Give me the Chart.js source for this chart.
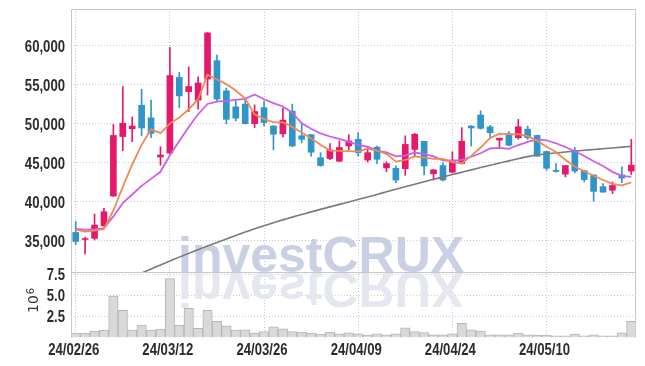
<!DOCTYPE html>
<html>
<head>
<meta charset="utf-8">
<script src="https://cdn.jsdelivr.net/npm/chart.js@4.4.1/dist/chart.umd.min.js"></script>
<style>
	html, body { margin: 0; padding: 0; background: #fff; }
	#wrap { width: 645px; height: 366px; }
</style>
</head>
<body>
<div id="wrap"><canvas id="myChart" width="645" height="366"></canvas></div>
<script>
const dates = ['24/02/26','24/02/27','24/02/28','24/02/29','24/03/04','24/03/05','24/03/06','24/03/07','24/03/08','24/03/11',
	'24/03/12','24/03/13','24/03/14','24/03/15','24/03/18','24/03/19','24/03/20','24/03/21','24/03/22','24/03/25',
	'24/03/26','24/03/27','24/03/28','24/03/29','24/04/01','24/04/02','24/04/03','24/04/04','24/04/05','24/04/08',
	'24/04/09','24/04/11','24/04/12','24/04/15','24/04/16','24/04/17','24/04/18','24/04/19','24/04/22','24/04/23',
	'24/04/24','24/04/25','24/04/26','24/04/29','24/04/30','24/05/02','24/05/03','24/05/07','24/05/08','24/05/09',
	'24/05/10','24/05/13','24/05/14','24/05/16','24/05/17','24/05/20','24/05/21','24/05/22','24/05/23','24/05/24'];

const opens = [36050, 35150, 35300, 36900, 40700, 48300, 49300, 52300, 50700, 45700,
	46200, 55850, 54050, 52950, 55650, 58000, 54150, 52100, 52450, 49950,
	52000, 49650, 48650, 51550, 48400, 48550, 45600, 45500, 45150, 47100,
	47950, 45300, 46950, 44300, 44250, 44200, 46650, 47700, 43550, 44600,
	43750, 44850, 49650, 51050, 49550, 47850, 48650, 48150, 49250, 48450,
	46400, 43950, 43500, 46450, 43950, 43400, 41900, 41450, 43400, 43900];
const highs = [37450, 35450, 38400, 39150, 49850, 54700, 50800, 54350, 52950, 47000,
	59700, 56500, 57200, 55950, 61600, 58700, 54500, 52800, 53100, 52350,
	52850, 49700, 51900, 52450, 50100, 48600, 46250, 47400, 47750, 48550,
	48800, 47000, 47100, 45100, 44550, 48400, 48700, 47700, 44100, 44950,
	46350, 49450, 49700, 51600, 49750, 48100, 48950, 50500, 49650, 48450,
	46400, 44850, 44600, 46900, 43950, 43400, 42300, 42500, 44450, 47950];
const lows = [34500, 33300, 35100, 36850, 40650, 46500, 47650, 48400, 48150, 44650,
	46000, 52000, 51500, 51800, 53600, 52900, 49950, 50300, 49900, 49450,
	49650, 46600, 48250, 47000, 47500, 45800, 44500, 45350, 45100, 46600,
	45800, 45050, 44850, 43800, 42400, 43350, 45800, 43400, 42750, 42650,
	43650, 44800, 47100, 49250, 48250, 46750, 47100, 47950, 47950, 45800,
	44000, 43750, 43150, 43650, 42500, 40050, 41200, 41000, 42400, 43450];
const closes = [34900, 35250, 37000, 38700, 48450, 50000, 49650, 49400, 48700, 45950,
	56100, 53500, 54700, 55150, 61550, 53100, 50500, 50650, 49950, 51500,
	50100, 48600, 50400, 47100, 47950, 46300, 44600, 46600, 46900, 47750,
	46250, 46250, 45400, 44850, 42750, 47300, 48600, 44550, 44050, 42750,
	45300, 47700, 49400, 49350, 48800, 48100, 47200, 49550, 48150, 45800,
	44250, 43850, 44600, 43900, 42800, 41300, 41200, 42050, 43000, 44650];

// moving averages
const ma5 = [36400, 36150, 36300, 36500, 38860, 41880, 44760, 47240, 49240, 48740,
	49960, 50730, 51790, 53080, 56200, 55600, 55000, 54190, 53150, 51140,
	50540, 50160, 50110, 49540, 48830, 48070, 47270, 46510, 46470, 46430,
	46420, 46750, 46510, 46100, 45100, 45310, 45780, 45610, 45450, 45450,
	45050, 44870, 45840, 46900, 48110, 48670, 48570, 48600, 48360, 47760,
	46990, 46320, 45330, 44480, 43880, 43290, 42760, 42250, 42070, 42440];
const ma10 = [36500, 36400, 36450, 36600, 38100, 39800, 40900, 42000, 42900, 43800,
	45920, 47745, 49515, 51160, 52470, 52780, 52865, 52990, 53115, 53670,
	53070, 52580, 52150, 51345, 49985, 49305, 48715, 48310, 48005, 47630,
	47245, 47010, 46510, 46285, 45765, 45865, 46265, 46060, 45775, 45275,
	45180, 45325, 45725, 46175, 46780, 46860, 46720, 47220, 47630, 47935,
	47830, 47445, 46965, 46420, 45820, 45140, 44540, 43790, 43275, 43160];
const maLong = [null, null, null, null, null, null, 30400, 30870, 31380, 31900,
	32400, 32900, 33380, 33850, 34320, 34780, 35230, 35670, 36100, 36520,
	36920, 37300, 37660, 38010, 38350, 38680, 39000, 39320, 39640, 39950,
	40250, 40580, 40910, 41240, 41570, 41900, 42220, 42530, 42840, 43150,
	43450, 43750, 44050, 44340, 44630, 44920, 45200, 45480, 45740, 45950,
	46100, 46220, 46330, 46440, 46550, 46650, 46750, 46850, 46950, 47050];

// volume in millions
const volumes = [0.52, 0.52, 0.75, 0.87, 4.9, 3.22, 0.87, 1.46, 0.87, 0.99,
	6.99, 1.46, 3.46, 1.1, 3.22, 1.93, 1.38, 0.87, 0.9, 0.52,
	0.71, 1.26, 1.02, 0.71, 0.63, 0.52, 0.4, 0.63, 0.44, 0.55,
	0.44, 0.28, 0.44, 0.32, 0.44, 1.14, 0.71, 0.59, 0.32, 0.32,
	0.44, 1.69, 0.9, 0.75, 0.32, 0.32, 0.32, 0.52, 0.32, 0.28,
	0.28, 0.2, 0.2, 0.4, 0.2, 0.32, 0.2, 0.2, 0.55, 1.93];

const priceTicks = [35000, 40000, 45000, 50000, 55000, 60000];
const volumeTicks = [2.5, 5.0, 7.5];
const dateTickEvery = 10;

const upColor = '#e5196b';
const downColor = '#3095c8';
const candleColors = closes.map((c, i) => c >= opens[i] ? upColor : downColor);
const gridColor = '#c6c9de';
const labelColor = '#2b2b2b';

// narrow label text: Liberation Sans squeezed sideways
function drawNarrow(ctx, text, x, y, align) {
	ctx.save();
	ctx.translate(x, y);
	ctx.scale(0.82, 1);
	ctx.textAlign = align;
	ctx.fillText(text, 0, 0);
	ctx.restore();
}

// keep each dataset inside its own pane
const paneClip = {
	id: 'paneClip',
	beforeDatasetDraw(chart, args) {
		const s = chart.scales[args.meta.yAxisID];
		const a = chart.chartArea;
		chart.ctx.save();
		chart.ctx.beginPath();
		chart.ctx.rect(a.left, s.top, a.right - a.left, s.bottom - s.top);
		chart.ctx.clip();
	},
	afterDatasetDraw(chart) {
		chart.ctx.restore();
	}
};

const frame = {
	id: 'frame',
	beforeDatasetsDraw(chart) {
		const { ctx, chartArea } = chart;
		const base = chart.scales.y.bottom;
		ctx.save();
		ctx.beginPath();
		ctx.rect(chartArea.left, chartArea.top, chartArea.width, chartArea.height);
		ctx.clip();
		ctx.font = 'bold 50px "Liberation Sans", sans-serif';
		ctx.textBaseline = 'alphabetic';
		ctx.textAlign = 'left';
		// reflection
		ctx.save();
		ctx.translate(0, 2 * base);
		ctx.scale(1, -1);
		ctx.fillStyle = '#e4e6f0';
		ctx.fillText('investCRUX', 178, base);
		ctx.restore();
		ctx.fillStyle = '#c9d0e4';
		ctx.fillText('investCRUX', 178, base);
		ctx.restore();
	},
	afterDraw(chart) {
		const { ctx, chartArea, scales } = chart;
		const sep = Math.round(scales.y.bottom) + 0.5;
		const l = Math.round(chartArea.left) + 0.5;
		const r = Math.round(chartArea.right) - 0.5;
		const t = Math.round(chartArea.top) + 0.5;
		const b = chartArea.bottom;
		ctx.save();
		ctx.strokeStyle = '#c8c8cc';
		ctx.lineWidth = 1;
		ctx.beginPath();
		ctx.moveTo(l, b); ctx.lineTo(l, t); ctx.lineTo(r, t); ctx.lineTo(r, b);
		ctx.moveTo(l, sep); ctx.lineTo(r, sep);
		ctx.stroke();

		// tick labels
		ctx.fillStyle = labelColor;
		ctx.font = 'bold 16px "Liberation Sans", sans-serif';
		ctx.textBaseline = 'alphabetic';
		priceTicks.forEach(v => {
			drawNarrow(ctx, v.toLocaleString('en-US'), chartArea.left - 6, scales.y.getPixelForValue(v) + 6.5, 'right');
		});
		volumeTicks.forEach(v => {
			drawNarrow(ctx, v.toFixed(1), chartArea.left - 6, scales.v.getPixelForValue(v) + 6, 'right');
		});
		scales.x.ticks.forEach((tk, i) => {
			drawNarrow(ctx, dates[tk.value], scales.x.getPixelForTick(i) - 2, 354.5, 'center');
		});

		// 10^6 label of the volume pane
		ctx.translate(37.5, 313);
		ctx.rotate(-Math.PI / 2);
		ctx.fillStyle = '#333';
		ctx.textAlign = 'left';
		ctx.font = '14px "DejaVu Sans", sans-serif';
		ctx.fillText('10', 0, 0);
		const w = ctx.measureText('10').width;
		ctx.font = '10px "DejaVu Sans", sans-serif';
		ctx.fillText('6', w + 1, -4);
		ctx.restore();
	}
};

const ctx = document.getElementById('myChart').getContext('2d');
const myChart = new Chart(ctx, {
	type: 'bar',
	data: {
		labels: dates,
		datasets: [
			{
				type: 'line', data: ma5, yAxisID: 'y', order: 1,
				borderColor: '#ef8a52', borderWidth: 1.8, pointRadius: 0, tension: 0
			},
			{
				type: 'line', data: ma10, yAxisID: 'y', order: 1,
				borderColor: '#cb5fec', borderWidth: 1.8, pointRadius: 0, tension: 0
			},
			{
				type: 'line', data: maLong, yAxisID: 'y', order: 2,
				borderColor: '#7a7a7a', borderWidth: 1.6, pointRadius: 0, tension: 0.3
			},
			{
				data: lows.map((l, i) => [l, highs[i]]), yAxisID: 'y', order: 3,
				backgroundColor: candleColors, barThickness: 1, grouped: false
			},
			{
				data: opens.map((o, i) => [o, closes[i]]), yAxisID: 'y', order: 3,
				backgroundColor: candleColors, barThickness: 6, grouped: false,
				minBarLength: 1
			},
			{
				data: volumes, yAxisID: 'v', order: 5,
				backgroundColor: '#d9d9d9', borderColor: '#b4b4b4', borderWidth: 1,
				barPercentage: 1, categoryPercentage: 1, grouped: false
			}
		]
	},
	options: {
		responsive: false,
		animation: false,
		layout: { padding: { top: 9, right: 9, bottom: 0, left: 0 } },
		plugins: {
			legend: { display: false },
			tooltip: { enabled: false }
		},
		scales: {
			x: {
				type: 'category',
				offset: true,
				grid: { offset: false, color: gridColor, drawTicks: false },
				border: { display: false, dash: [1, 2] },
				ticks: { display: false, autoSkip: false },
				afterBuildTicks: s => { s.ticks = s.ticks.filter(tk => tk.value % dateTickEvery === 0); },
				afterFit: s => { s.height = 28.5; }
			},
			v: {
				stack: 'panes', stackWeight: 65.5, position: 'left',
				min: 0, max: 7.77,
				grid: { color: gridColor, drawTicks: false },
				border: { display: false, dash: [1, 2] },
				ticks: { display: false },
				afterBuildTicks: s => { s.ticks = volumeTicks.map(v => ({ value: v })); },
				afterFit: s => { s.width = 71; }
			},
			y: {
				stack: 'panes', stackWeight: 263, position: 'left',
				min: 31000, max: 64600,
				grid: { color: gridColor, drawTicks: false },
				border: { display: false, dash: [1, 2] },
				ticks: { display: false },
				afterBuildTicks: s => { s.ticks = priceTicks.map(v => ({ value: v })); },
				afterFit: s => { s.width = 71; }
			}
		}
	},
	plugins: [paneClip, frame]
});
</script>
</body>
</html>
